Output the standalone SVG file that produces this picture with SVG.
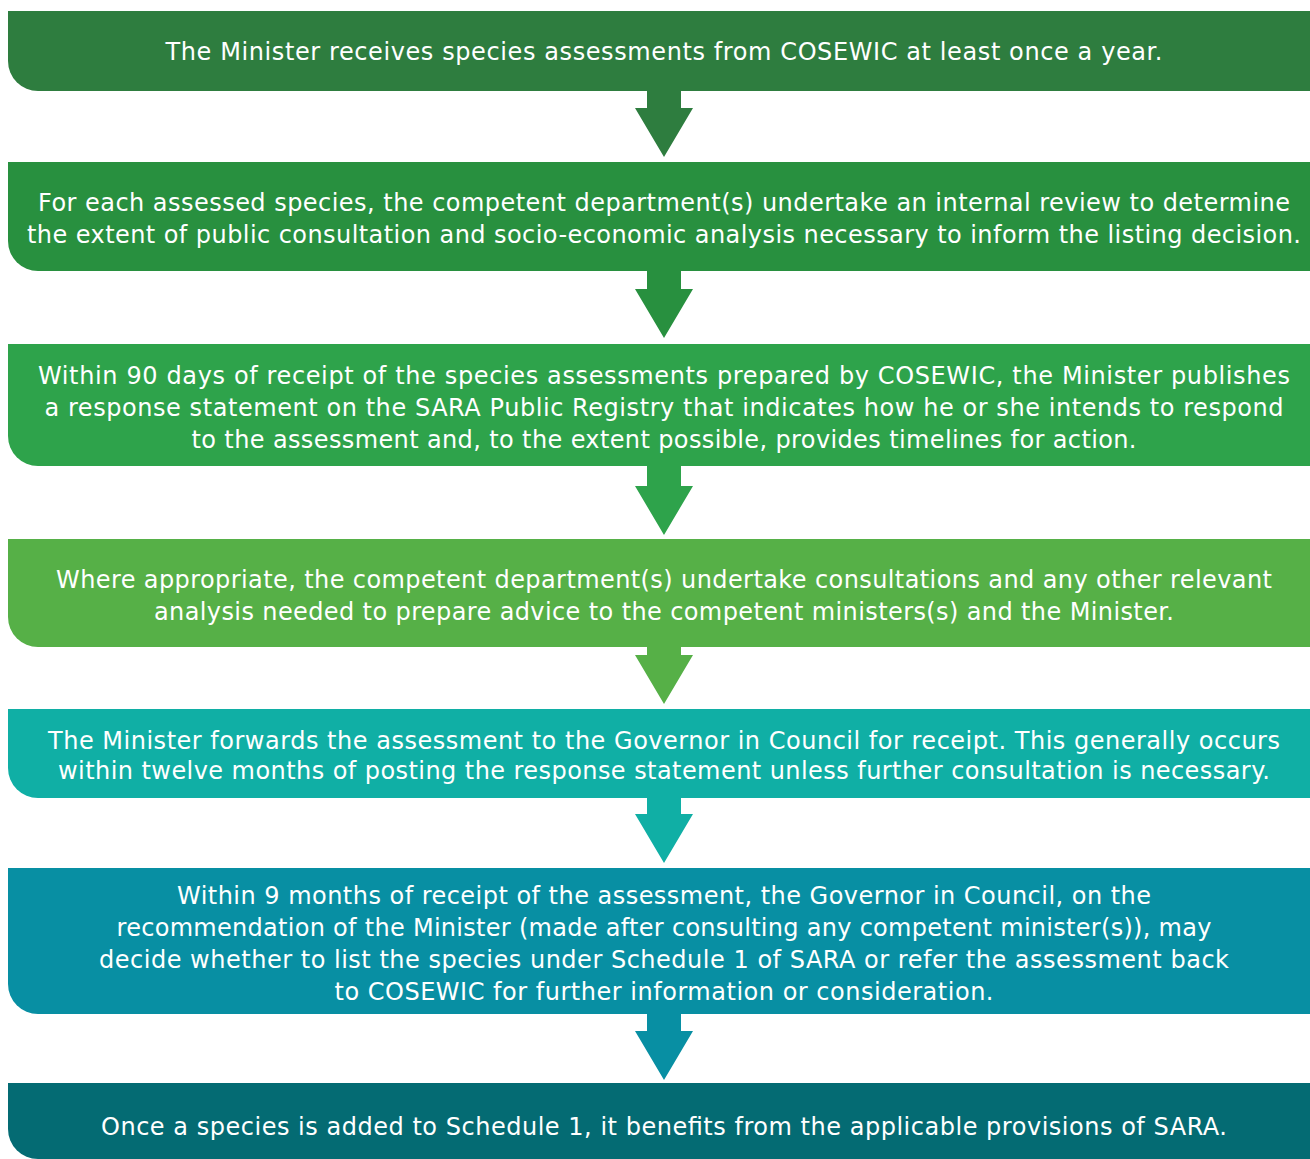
<svg xmlns="http://www.w3.org/2000/svg" width="1310" height="1159" viewBox="0 0 1310 1159">
<style>
text{font-family:"DejaVu Sans","Open Sans",sans-serif;font-size:24px;fill:#ffffff;text-anchor:middle}
.c1{fill:#2E7D3F}.c2{fill:#28903F}.c3{fill:#2EA34B}.c4{fill:#56B047}.c5{fill:#10AFA5}.c6{fill:#088FA3}.c7{fill:#046B73}
</style>
<rect width="1310" height="1159" fill="#ffffff"/>
<g id="connectors">
<path class="c1" d="M647,91H681V108H693L664,157L635,108H647Z"/>
<path class="c2" d="M647,271H681V289H693L664,338L635,289H647Z"/>
<path class="c3" d="M647,466H681V486H693L664,535L635,486H647Z"/>
<path class="c4" d="M647,647H681V655H693L664,704L635,655H647Z"/>
<path class="c5" d="M647,798H681V814H693L664,863L635,814H647Z"/>
<path class="c6" d="M647,1014H681V1031H693L664,1080L635,1031H647Z"/>
</g>
<g id="n1">
<path class="c1" d="M8,11H1320V91H38A30,30 0 0 1 8,61Z"/>
<text x="664" y="60" textLength="997">The Minister receives species assessments from COSEWIC at least once a year.</text>
</g>
<g id="n2">
<path class="c2" d="M8,162H1320V271H38A30,30 0 0 1 8,241Z"/>
<text x="664" y="211" textLength="1252">For each assessed species, the competent department(s) undertake an internal review to determine</text>
<text x="664" y="243" textLength="1274">the extent of public consultation and socio-economic analysis necessary to inform the listing decision.</text>
</g>
<g id="n3">
<path class="c3" d="M8,344H1320V466H38A30,30 0 0 1 8,436Z"/>
<text x="664" y="384" textLength="1252">Within 90 days of receipt of the species assessments prepared by COSEWIC, the Minister publishes</text>
<text x="664" y="416" textLength="1239">a response statement on the SARA Public Registry that indicates how he or she intends to respond</text>
<text x="664" y="448" textLength="945">to the assessment and, to the extent possible, provides timelines for action.</text>
</g>
<g id="n4">
<path class="c4" d="M8,539H1320V647H38A30,30 0 0 1 8,617Z"/>
<text x="664" y="588" textLength="1216">Where appropriate, the competent department(s) undertake consultations and any other relevant</text>
<text x="664" y="620" textLength="1020">analysis needed to prepare advice to the competent ministers(s) and the Minister.</text>
</g>
<g id="n5">
<path class="c5" d="M8,709H1320V798H38A30,30 0 0 1 8,768Z"/>
<text x="664" y="749" textLength="1232">The Minister forwards the assessment to the Governor in Council for receipt. This generally occurs</text>
<text x="664" y="779" textLength="1212">within twelve months of posting the response statement unless further consultation is necessary.</text>
</g>
<g id="n6">
<path class="c6" d="M8,868H1320V1014H38A30,30 0 0 1 8,984Z"/>
<text x="664" y="904" textLength="974">Within 9 months of receipt of the assessment, the Governor in Council, on the</text>
<text x="664" y="936" textLength="1095">recommendation of the Minister (made after consulting any competent minister(s)), may</text>
<text x="664" y="968" textLength="1130">decide whether to list the species under Schedule 1 of SARA or refer the assessment back</text>
<text x="664" y="1000" textLength="659">to COSEWIC for further information or consideration.</text>
</g>
<g id="n7">
<path class="c7" d="M8,1083H1320V1159H38A30,30 0 0 1 8,1129Z"/>
<text x="664" y="1135" textLength="1126">Once a species is added to Schedule 1, it benefits from the applicable provisions of SARA.</text>
</g>
</svg>
